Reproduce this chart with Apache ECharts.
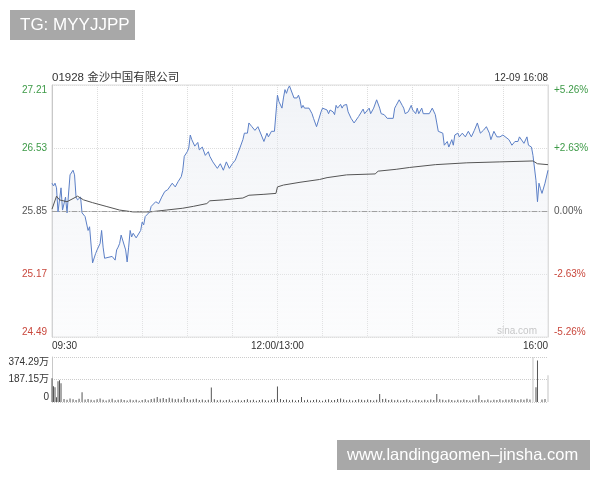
<!DOCTYPE html>
<html>
<head>
<meta charset="utf-8">
<title>01928 金沙中国有限公司</title>
<script src="https://cdn.jsdelivr.net/npm/echarts@6.0.0/dist/echarts.min.js"></script>
<style>
  html, body { margin: 0; padding: 0; background: #fff; }
  #chart { width: 600px; height: 480px; }
</style>
</head>
<body>
<div id="chart"></div>
<script>
var prevClose = 25.85;

// minutes after 09:30 (lunch break removed, 12:00/13:00 = 150, 16:00 = 330)
var minutes = [0, 1, 2, 3, 4, 5, 6, 7, 9, 10,
  12, 14, 15, 16, 17, 19, 20, 22, 24, 25,
  27, 29, 30, 32, 33, 34, 35, 36, 40, 42,
  43, 44, 45, 46, 47, 49, 50, 51, 52, 53,
  54, 55, 56, 59, 60, 61, 62, 63, 65, 66,
  69, 71, 73, 75, 77, 80, 82, 84, 86, 87,
  88, 90, 91, 92, 93, 95, 97, 98, 100, 102,
  104, 105, 107, 110, 112, 114, 116, 118, 120, 122,
  125, 127, 128, 130, 131, 133, 135, 137, 138, 141,
  143, 144, 146, 148, 150, 151, 152, 153, 154, 155,
  156, 157, 158, 159, 161, 162, 163, 164, 165, 166,
  167, 168, 171, 173, 174, 176, 177, 179, 180, 183,
  184, 185, 187, 188, 189, 190, 192, 193, 194, 196,
  197, 199, 201, 202, 204, 205, 207, 208, 209, 211,
  212, 214, 216, 217, 218, 219, 221, 223, 227, 228,
  229, 231, 233, 234, 235, 237, 239, 240, 242, 243,
  244, 246, 247, 251, 253, 255, 256, 257, 258, 260,
  261, 263, 264, 266, 267, 268, 270, 271, 273, 275,
  277, 279, 281, 283, 285, 287, 289, 291, 292, 294,
  296, 298, 300, 301, 304, 306, 308, 310, 311, 312,
  314, 316, 317, 319, 320, 322, 323, 324, 325, 326,
  328, 330];
var prices = [26.15, 26.12, 26.15, 26.10, 25.84, 25.97, 26.10, 25.86, 26.00, 25.83,
  26.24, 26.29, 26.24, 26.00, 25.97, 26.00, 25.83, 25.79, 25.64, 25.68,
  25.29, 25.39, 25.43, 25.50, 25.64, 25.46, 25.34, 25.36, 25.36, 25.32,
  25.43, 25.46, 25.50, 25.59, 25.61, 25.43, 25.30, 25.46, 25.64, 25.57,
  25.61, 25.59, 25.56, 25.64, 25.73, 25.70, 25.79, 25.77, 25.84, 25.90,
  25.95, 25.93, 26.00, 26.06, 26.08, 26.15, 26.11, 26.17, 26.22, 26.29,
  26.44, 26.49, 26.53, 26.67, 26.62, 26.55, 26.59, 26.51, 26.54, 26.45,
  26.49, 26.44, 26.38, 26.31, 26.36, 26.29, 26.38, 26.31, 26.36, 26.40,
  26.53, 26.62, 26.69, 26.69, 26.80, 26.76, 26.72, 26.76, 26.76, 26.60,
  26.69, 26.65, 26.71, 26.71, 27.10, 27.03, 27.05, 26.96, 27.07, 27.16,
  27.12, 27.17, 27.20, 27.19, 27.07, 27.05, 27.07, 27.10, 27.05, 26.96,
  26.99, 26.96, 26.96, 26.90, 26.85, 26.76, 26.76, 26.92, 26.96, 26.94,
  26.90, 26.94, 26.92, 26.89, 26.99, 26.96, 27.00, 26.96, 26.99, 27.00,
  26.92, 26.85, 26.80, 26.81, 26.87, 26.89, 26.95, 26.90, 26.90, 26.96,
  26.90, 26.96, 27.05, 27.05, 26.96, 26.90, 26.89, 26.85, 26.85, 26.96,
  26.99, 27.05, 26.99, 26.96, 26.90, 26.92, 26.99, 26.94, 26.90, 26.96,
  26.90, 26.96, 26.90, 26.90, 26.96, 26.89, 26.80, 26.71, 26.71, 26.69,
  26.56, 26.60, 26.54, 26.62, 26.56, 26.67, 26.69, 26.65, 26.69, 26.65,
  26.71, 26.65, 26.72, 26.80, 26.69, 26.72, 26.76, 26.69, 26.62, 26.71,
  26.65, 26.65, 26.67, 26.65, 26.62, 26.56, 26.60, 26.60, 26.65, 26.65,
  26.58, 26.65, 26.56, 26.54, 26.45, 26.18, 25.95, 26.15, 26.09, 26.04,
  26.15, 26.29];

var avgMinutes = [0, 3, 5, 10, 17, 21, 27, 36, 45, 54,
  65, 76, 87, 94, 103, 105, 114, 120, 127, 131,
  141, 149, 150, 154, 165, 178, 183, 196, 215, 217,
  229, 238, 255, 276, 298, 320, 323, 330];
var avgPrices = [25.87, 26.01, 25.97, 25.95, 26.01, 25.97, 25.94, 25.90, 25.86, 25.84,
  25.84, 25.86, 25.88, 25.90, 25.93, 25.96, 25.97, 25.98, 25.99, 26.02,
  26.03, 26.04, 26.11, 26.13, 26.16, 26.19, 26.21, 26.24, 26.25, 26.28,
  26.30, 26.32, 26.35, 26.37, 26.38, 26.39, 26.36, 26.35];

// volume in 万
var volMinutes = [0, 1, 2, 3, 4, 5, 6,
  8, 10, 12, 14, 16, 18, 20, 22, 24, 26,
  28, 30, 32, 34, 36, 38, 40, 42, 44, 46,
  48, 50, 52, 54, 56, 58, 60, 62, 64, 66,
  68, 70, 72, 74, 76, 78, 80, 82, 84, 86,
  88, 90, 92, 94, 96, 98, 100, 102, 104, 106,
  108, 110, 112, 114, 116, 118, 120, 122, 124, 126,
  128, 130, 132, 134, 136, 138, 140, 142, 144, 146,
  148, 150, 152, 154, 156, 158, 160, 162, 164, 166,
  168, 170, 172, 174, 176, 178, 180, 182, 184, 186,
  188, 190, 192, 194, 196, 198, 200, 202, 204, 206,
  208, 210, 212, 214, 216, 218, 220, 222, 224, 226,
  228, 230, 232, 234, 236, 238, 240, 242, 244, 246,
  248, 250, 252, 254, 256, 258, 260, 262, 264, 266,
  268, 270, 272, 274, 276, 278, 280, 282, 284, 286,
  288, 290, 292, 294, 296, 298, 300, 302, 304, 306,
  308, 310, 312, 314, 316, 318, 320,
  322, 323, 326, 328, 330];
var volValues = [197, 131, 123, 40, 172, 180, 156,
  25, 18, 30, 22, 16, 28, 82, 20, 24, 18,
  15, 22, 30, 18, 12, 20, 26, 14, 18, 22,
  16, 12, 20, 14, 18, 10, 16, 22, 14, 25,
  30, 41, 28, 33, 25, 35, 30, 22, 26, 20,
  41, 24, 18, 22, 28, 16, 20, 14, 18, 120,
  22, 14, 18, 12, 16, 20, 10, 14, 18, 12,
  16, 22, 14, 18, 10, 16, 20, 14, 12, 18,
  22, 129, 25, 16, 20, 14, 18, 12, 16, 41,
  14, 18, 12, 16, 20, 14, 10, 18, 22, 14,
  16, 24, 30, 20, 14, 18, 12, 16, 22, 18,
  14, 20, 16, 12, 18, 66, 24, 28, 16, 20,
  14, 18, 12, 16, 22, 14, 10, 18, 16, 12,
  18, 14, 20, 16, 66, 22, 18, 14, 20, 16,
  12, 18, 14, 20, 16, 12, 18, 22, 57, 16,
  14, 20, 12, 18, 16, 22, 14, 20, 18, 24,
  20, 16, 22, 18, 26, 20, 374,
  123, 345, 20, 25, 222];
var volMax = 374.29;
var lightVolMinutes = [320, 330];

var tickMinutes = [0, 150, 330];
var tickLabels = ['09:30', '12:00/13:00', '16:00'];

var pct = function(p) { return (p / prevClose - 1) * 100; };
var priceData = minutes.map(function(m, i) { return [m, pct(prices[i])]; });
var avgData = avgMinutes.map(function(m, i) { return [m, pct(avgPrices[i])]; });
var volData = volMinutes.map(function(m, i) {
  var item = { value: [m, volValues[i]] };
  if (lightVolMinutes.indexOf(m) >= 0) item.itemStyle = { color: '#c4c4c4' };
  return item;
});

var green = '#3d9a47';
var red = '#c9473c';
var signColor = function(v) {
  v = parseFloat(v);
  if (Math.abs(v) < 1e-6) return '#555';
  return v > 0 ? green : red;
};
var font = 'Liberation Sans, Arial, Noto Sans CJK SC, sans-serif';

var chart = echarts.init(document.getElementById('chart'));
var options = {
  animation: false,
  textStyle: { fontFamily: font },
  grid: [
    { left: 52, right: 52, top: 85, height: 252, show: true, borderColor: '#ddd', borderWidth: 1 },
    { left: 52, right: 52, top: 357, height: 45 }
  ],
  xAxis: [
    {
      type: 'value', gridIndex: 0, min: 0, max: 330, interval: 30,
      axisLine: { lineStyle: { color: '#c8c8c8' } },
      axisTick: { show: false },
      splitLine: { show: true, lineStyle: { color: '#ddd', type: 'dotted' } },
      axisLabel: {
        color: '#333', fontSize: 10, margin: 4,
        showMinLabel: true, showMaxLabel: true,
        alignMinLabel: 'left', alignMaxLabel: 'right',
        formatter: function(v) {
          var i = tickMinutes.indexOf(v);
          return i >= 0 ? tickLabels[i] : '';
        }
      }
    },
    {
      type: 'value', gridIndex: 1, min: 0, max: 330,
      axisLine: { show: false },
      axisTick: { show: false },
      axisLabel: { show: false },
      splitLine: { show: false }
    }
  ],
  yAxis: [
    {
      type: 'value', gridIndex: 0, position: 'left',
      min: -5.26, max: 5.26, interval: 2.63,
      axisLine: { show: true, lineStyle: { color: '#c8c8c8' } },
      axisTick: { show: false },
      splitLine: { show: true, lineStyle: { color: '#ddd', type: 'dotted' } },
      axisLabel: {
        fontSize: 10, margin: 5,
        verticalAlignMaxLabel: 'top', verticalAlignMinLabel: 'bottom',
        color: signColor,
        formatter: function(v) { return (prevClose * (1 + v / 100)).toFixed(2); }
      }
    },
    {
      type: 'value', gridIndex: 0, position: 'right',
      min: -5.26, max: 5.26, interval: 2.63,
      axisLine: { show: true, lineStyle: { color: '#ddd' } },
      axisTick: { show: false },
      splitLine: { show: false },
      axisLabel: {
        fontSize: 10, margin: 6,
        verticalAlignMaxLabel: 'top', verticalAlignMinLabel: 'bottom',
        color: signColor,
        formatter: function(v) {
          if (Math.abs(v) < 1e-6) return '0.00%';
          return (v > 0 ? '+' : '') + v.toFixed(2) + '%';
        }
      }
    },
    {
      type: 'value', gridIndex: 1,
      min: 0, max: volMax, interval: volMax / 2,
      axisLine: { show: true, lineStyle: { color: '#c8c8c8' } },
      axisTick: { show: false },
      splitLine: { show: true, lineStyle: { color: '#ccc', type: 'dotted' } },
      axisLabel: {
        color: '#333', fontSize: 10, margin: 3,
        verticalAlignMaxLabel: 'top', verticalAlignMinLabel: 'bottom',
        formatter: function(v) { return v === 0 ? '0' : v.toFixed(2) + '万'; }
      }
    }
  ],
  series: [
    {
      name: '价格', type: 'line', xAxisIndex: 0, yAxisIndex: 0,
      data: priceData, showSymbol: false, z: 3,
      lineStyle: { color: '#5b7fc6', width: 1 },
      areaStyle: {
        origin: 'start',
        color: {
          type: 'linear', x: 0, y: 0, x2: 0, y2: 1,
          colorStops: [
            { offset: 0, color: 'rgba(222,227,236,0.6)' },
            { offset: 1, color: 'rgba(240,242,246,0.35)' }
          ]
        }
      },
      markLine: {
        silent: true, symbol: 'none', label: { show: false },
        lineStyle: { color: '#a0a0a0', type: [5, 2, 1, 2], width: 1 },
        data: [{ yAxis: 0 }]
      }
    },
    {
      name: '均价', type: 'line', xAxisIndex: 0, yAxisIndex: 0,
      data: avgData, showSymbol: false, z: 4,
      lineStyle: { color: '#555', width: 1 }
    },
    {
      name: '成交量', type: 'bar', xAxisIndex: 1, yAxisIndex: 2,
      data: volData, barWidth: 1,
      itemStyle: { color: '#555' }
    }
  ],
  graphic: [
    { type: 'rect', left: 10, top: 10, shape: { width: 125, height: 30 }, style: { fill: '#a8a8a8' } },
    { type: 'text', x: 20, y: 25, style: { text: 'TG: MYYJJPP', fill: '#fff', font: '17px ' + font, textVerticalAlign: 'middle' } },
    { type: 'text', x: 52, y: 78, style: { text: '01928 金沙中国有限公司', fill: '#333', font: '11.5px ' + font, textVerticalAlign: 'middle' } },
    { type: 'text', x: 548, y: 78, style: { text: '12-09 16:08', fill: '#333', font: '10px ' + font, textAlign: 'right', textVerticalAlign: 'middle' } },
    { type: 'text', x: 537, y: 331, style: { text: 'sina.com', fill: '#b8b8b8', font: '10px ' + font, textAlign: 'right', textVerticalAlign: 'middle' } },
    { type: 'rect', left: 337, top: 440, shape: { width: 253, height: 30 }, style: { fill: '#a8a8a8' } },
    { type: 'text', x: 347, y: 455, style: { text: 'www.landingaomen–jinsha.com', fill: '#fff', font: '16.5px ' + font, textVerticalAlign: 'middle' } }
  ]
};
chart.setOption(options);
</script>
</body>
</html>
